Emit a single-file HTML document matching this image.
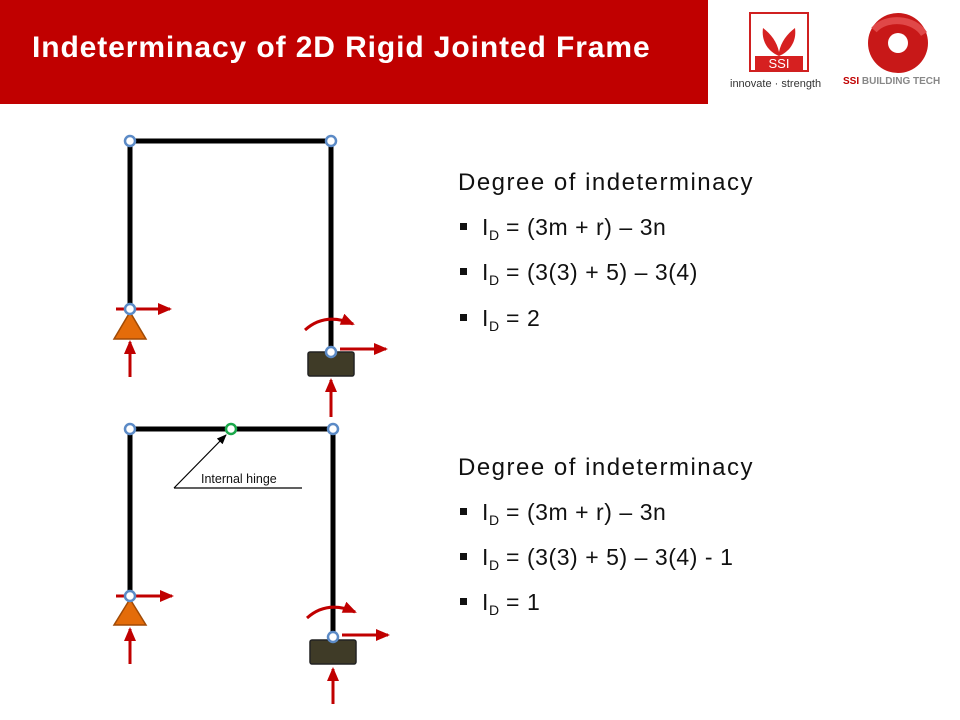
<!DOCTYPE html>
<html><head><meta charset="utf-8"><style>
body{margin:0;width:960px;height:720px;background:#fff;overflow:hidden;position:relative;font-family:"Liberation Sans",sans-serif}
.hdr{position:absolute;left:0;top:0;width:708px;height:104px;background:#c00000}
.title{position:absolute;left:32px;top:31px;color:#fff;font-weight:bold;font-size:30px;letter-spacing:0.9px;white-space:nowrap}
.t{position:absolute;font-size:23px;color:#111;white-space:nowrap;letter-spacing:0.55px}
.h{font-size:24px;letter-spacing:1.5px}
.b{position:absolute;width:7px;height:7px;background:#111}
sub{font-size:14px;vertical-align:-5px;letter-spacing:0}
</style></head><body>
<div class="hdr"></div>
<div class="title">Indeterminacy of 2D Rigid Jointed Frame</div>
<div style="position:absolute;left:749px;top:12px;width:60px;height:60px;border:2px solid #d02020;box-sizing:border-box;background:#fff"></div>
<svg style="position:absolute;left:749px;top:12px" width="60" height="60">
<path d="M30 44 C20 40 12 30 14 16 C22 22 28 30 30 40 Z" fill="#d62020"/>
<path d="M30 44 C40 40 48 30 46 16 C38 22 32 30 30 40 Z" fill="#d62020"/>
<rect x="6" y="44" width="48" height="14" fill="#d62020"/>
<text x="30" y="56" font-family="Liberation Sans" font-size="13" fill="#fff" text-anchor="middle">SSI</text>
</svg>
<div style="position:absolute;left:730px;top:78px;font-size:11px;color:#333">innovate · strength</div>
<svg style="position:absolute;left:858px;top:12px" width="84" height="62">
<circle cx="40" cy="31" r="30" fill="#c81818"/>
<circle cx="40" cy="31" r="10" fill="#fff"/>
<path d="M16 18 C28 4 56 6 66 22" stroke="#e04848" stroke-width="7" fill="none"/>
</svg>
<div style="position:absolute;left:843px;top:76px;font-size:10px;font-weight:bold;color:#888"><span style="color:#c00000">SSI</span> BUILDING TECH</div>

<svg style="position:absolute;left:0;top:0" width="960" height="720">
<defs>
<marker id="ar" markerWidth="14" markerHeight="12" refX="12" refY="6" orient="auto" markerUnits="userSpaceOnUse"><path d="M0 0 L14 6 L0 12 Z" fill="#c00000"/></marker>
<marker id="ak" markerWidth="10" markerHeight="8" refX="9" refY="4" orient="auto" markerUnits="userSpaceOnUse"><path d="M0 0 L10 4 L0 8 Z" fill="#000"/></marker></defs>
<g stroke="#000" stroke-width="5" fill="none">
<path d="M130 309 V141 H331 V352"/>
<path d="M130 596 V429 H333 V637"/>
</g>
<g stroke="#c00000" stroke-width="3" fill="none">
<path d="M116 309 H170" marker-end="url(#ar)"/>
<path d="M130 377 V342" marker-end="url(#ar)"/>
<path d="M340 349 H386" marker-end="url(#ar)"/>
<path d="M331 417 V380" marker-end="url(#ar)"/>
<path d="M305 330 Q325 312 353 324" marker-end="url(#ar)"/>
<path d="M116 596 H172" marker-end="url(#ar)"/>
<path d="M130 664 V629" marker-end="url(#ar)"/>
<path d="M342 635 H388" marker-end="url(#ar)"/>
<path d="M333 704 V669" marker-end="url(#ar)"/>
<path d="M307 618 Q327 600 355 612" marker-end="url(#ar)"/>
</g>
<polygon points="130,312 114,339 146,339" fill="#e46c0a" stroke="#a04a06" stroke-width="1.5"/>
<polygon points="130,599 114,625 146,625" fill="#e46c0a" stroke="#a04a06" stroke-width="1.5"/>
<rect x="308" y="352" width="46" height="24" rx="2" fill="#3f3b27" stroke="#222" stroke-width="1.5"/>
<rect x="310" y="640" width="46" height="24" rx="2" fill="#3f3b27" stroke="#222" stroke-width="1.5"/>
<g fill="#fff" stroke="#5b8ac6" stroke-width="2.5">
<circle cx="130" cy="141" r="5"/><circle cx="331" cy="141" r="5"/><circle cx="130" cy="309" r="5"/><circle cx="331" cy="352" r="5"/>
<circle cx="130" cy="429" r="5"/><circle cx="333" cy="429" r="5"/><circle cx="130" cy="596" r="5"/><circle cx="333" cy="637" r="5"/>
</g>
<circle cx="231" cy="429" r="5" fill="#fff" stroke="#1aa84a" stroke-width="2.5"/>
<path d="M174 488 L226 435" stroke="#000" stroke-width="1.2" marker-end="url(#ak)"/>
<path d="M174 488 H302" stroke="#000" stroke-width="1.2"/>
<text x="201" y="483" font-family="Liberation Sans" font-size="12.5" fill="#111">Internal hinge</text>
</svg>

<div class="t h" style="left:458px;top:169px">Degree of indeterminacy</div>
<div class="b" style="left:460px;top:223px"></div><div class="t" style="left:482px;top:214px">I<sub>D</sub> = (3m + r) – 3n</div>
<div class="b" style="left:460px;top:268px"></div><div class="t" style="left:482px;top:259px">I<sub>D</sub> = (3(3) + 5) – 3(4)</div>
<div class="b" style="left:460px;top:314px"></div><div class="t" style="left:482px;top:305px">I<sub>D</sub> = 2</div>

<div class="t h" style="left:458px;top:454px">Degree of indeterminacy</div>
<div class="b" style="left:460px;top:508px"></div><div class="t" style="left:482px;top:499px">I<sub>D</sub> = (3m + r) – 3n</div>
<div class="b" style="left:460px;top:553px"></div><div class="t" style="left:482px;top:544px">I<sub>D</sub> = (3(3) + 5) – 3(4) - 1</div>
<div class="b" style="left:460px;top:598px"></div><div class="t" style="left:482px;top:589px">I<sub>D</sub> = 1</div>
</body></html>
